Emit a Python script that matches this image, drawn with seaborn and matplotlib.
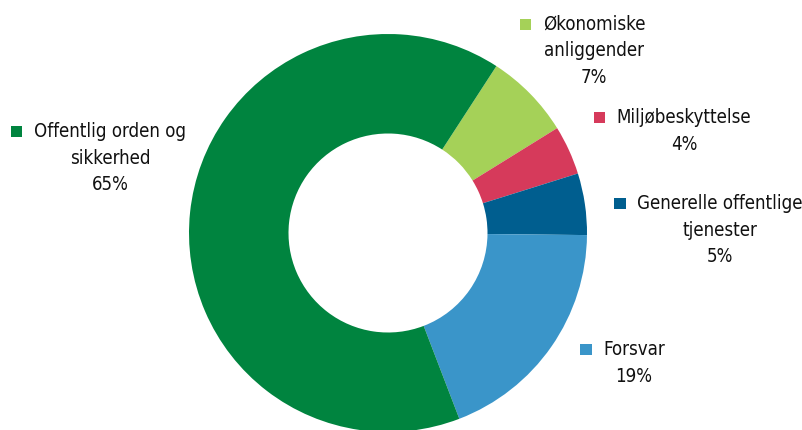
import matplotlib
matplotlib.use("Agg")
import matplotlib.pyplot as plt
import seaborn as sns

# --- data ---
categories = ["Økonomiske\nanliggender", "Miljøbeskyttelse", "Generelle offentlige\ntjenester",
              "Forsvar", "Offentlig orden og\nsikkerhed"]
shares = [7, 4, 5, 19, 65]
colors = ["#a5d158", "#d63a5b", "#005e8f", "#3a95c9", "#00843f"]

# label anchor (text centre x, centre of first line y) in pixels, y from top
label_pos = [(594, 24), (684, 117), (720, 203), (634, 349), (110, 131)]

sns.set_theme(style="white")
plt.rcParams["font.family"] = ["Liberation Sans Narrow", "DejaVu Sans"]
plt.rcParams["font.stretch"] = "condensed"

W, H = 803, 430
fig = plt.figure(figsize=(W / 100, H / 100), dpi=100)
ax = fig.add_axes([0, 0, 1, 1])

cx, cy, r = 388, H - 233, 199
ax.pie(shares, colors=colors, startangle=57, counterclock=False, radius=r,
       center=(cx, cy), wedgeprops=dict(width=r * 0.5, linewidth=0))
ax.set_xlim(0, W)
ax.set_ylim(0, H)
ax.set_aspect("equal")
ax.axis("off")

fs = 13.4
fig.canvas.draw()
renderer = fig.canvas.get_renderer()

for cat, val, col, (x, y) in zip(categories, shares, colors, label_pos):
    ax.text(x, H - y + 9, f"{cat}\n{val}%", ha="center", va="top",
            multialignment="center", fontsize=fs, color="#111111",
            linespacing=1.5)
    # colored square left of the first line
    t = ax.text(0, 0, cat.split("\n")[0], fontsize=fs)
    w = t.get_window_extent(renderer).width
    t.remove()
    left = x - w / 2 - 23
    ax.add_patch(plt.Rectangle((left, H - y - 6), 11.5, 11.5, color=col, linewidth=0))

fig.savefig("out.png", dpi=100)
